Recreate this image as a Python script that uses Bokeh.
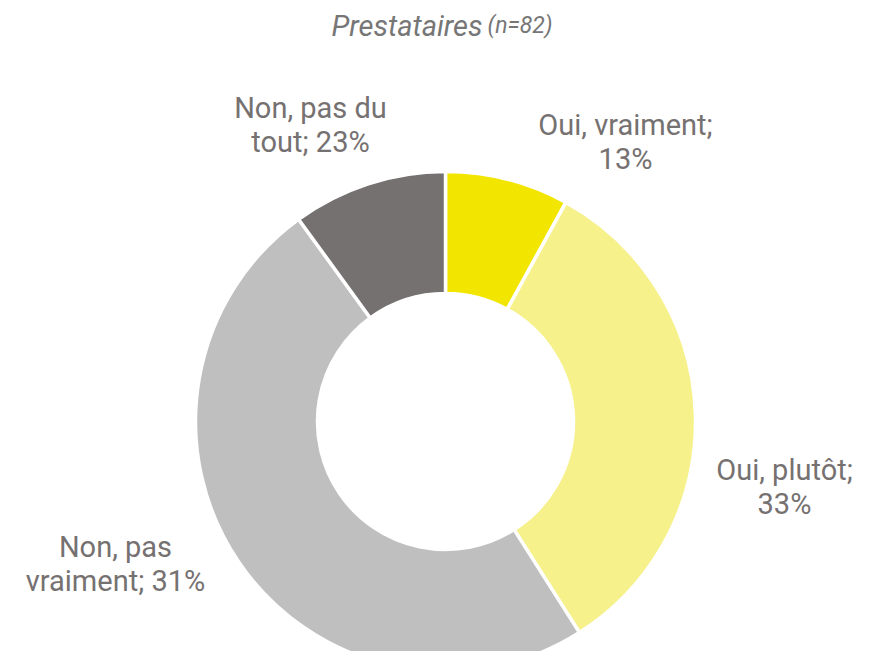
import numpy as np
from bokeh.plotting import figure
from bokeh.models import Range1d, ColumnDataSource
from bokeh.core.properties import value
from bokeh.embed import file_html
from bokeh.resources import INLINE

# ---- data ----
categories = ["Oui, vraiment", "Oui, plutôt", "Non, pas vraiment", "Non, pas du tout"]
slice_values = [8, 33, 49, 10]          # angular share of each slice (%)
label_texts = ["Oui, vraiment;\n13%", "Oui, plutôt;\n33%",
               "Non, pas\nvraiment; 31%", "Non, pas du\ntout; 23%"]
colors = ["#F2E500", "#F6F18B", "#BFBFBF", "#767171"]

# ---- layout ----
W, H = 861, 651
cx, cy = 445, 230
r_out, r_in = 250, 128
label_pos = [(625, 510), (784, 165), (115, 88), (310, 527)]

vals = np.array(slice_values, dtype=float)
frac = vals / vals.sum()
cum = np.concatenate([[0], np.cumsum(frac)])
start = np.pi / 2 - cum[1:] * 2 * np.pi
end = np.pi / 2 - cum[:-1] * 2 * np.pi

p = figure(width=W, height=H, x_range=Range1d(0, W), y_range=Range1d(0, H),
           output_backend="svg", toolbar_location=None,
           x_axis_type=None, y_axis_type=None, min_border=0)
p.grid.visible = False
p.outline_line_color = None
p.background_fill_color = "white"
p.border_fill_color = "white"

src = ColumnDataSource(dict(x=[cx] * 4, y=[cy] * 4, start=start, end=end,
                            color=colors, cat=categories))
p.annular_wedge(x="x", y="y", inner_radius=r_in, outer_radius=r_out,
                start_angle="start", end_angle="end", direction="anticlock",
                fill_color="color", line_color="white", line_width=3.5,
                source=src)

lsrc = ColumnDataSource(dict(x=[q[0] for q in label_pos],
                             y=[q[1] for q in label_pos], t=label_texts))
p.text(x="x", y="y", text="t", source=lsrc, text_align="center",
       text_baseline="middle", text_font=value("Roboto"),
       text_font_size="29px", text_color="#767171", text_line_height=1.0)

# title
p.text(x=[482], y=[626], text=["Prestataires"], text_align="right",
       text_baseline="alphabetic", text_font=value("Roboto"),
       text_font_style="italic", text_font_size="29px", text_color="#767676")
p.text(x=[487], y=[626], text=["(n=82)"], text_align="left",
       text_baseline="alphabetic", text_font=value("Roboto"),
       text_font_style="italic", text_font_size="23px", text_color="#767676")

open("out.html", "w").write(file_html(p, INLINE))
